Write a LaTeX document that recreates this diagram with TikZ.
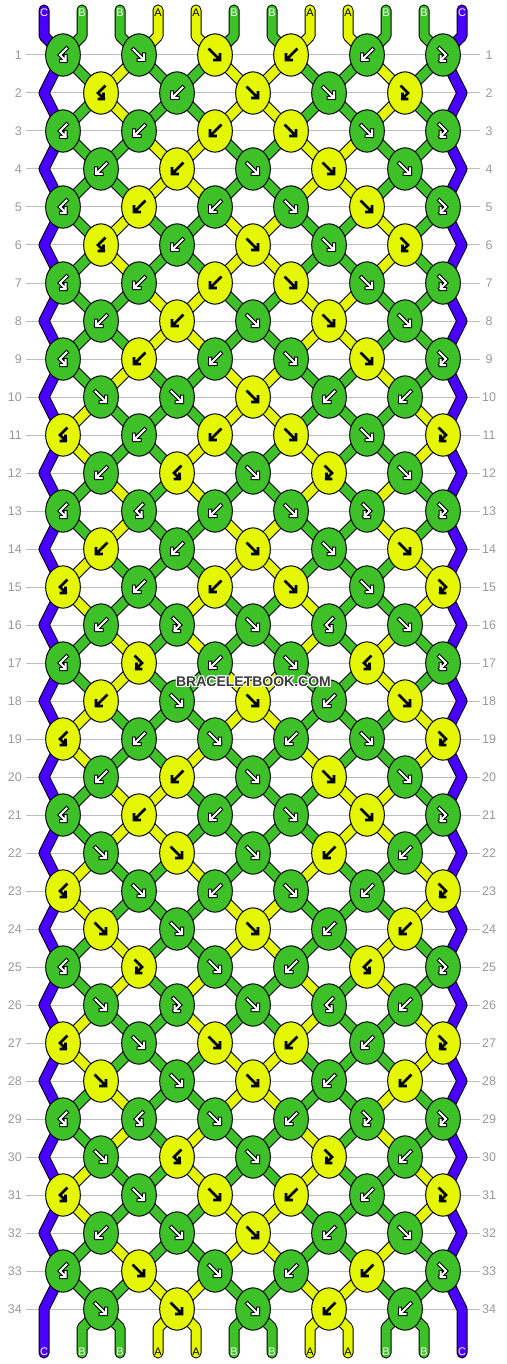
\documentclass[tikz,border=0pt]{standalone}
\usepackage{fontspec}
\setmainfont{Liberation Sans}
\usetikzlibrary{shapes.geometric}
\definecolor{cA}{HTML}{E4F700}
\definecolor{cB}{HTML}{3EC029}
\definecolor{cC}{HTML}{4A00FF}
\definecolor{rowgray}{HTML}{BDBDBD}
\definecolor{labgray}{HTML}{9A9A9A}
\definecolor{wmgray}{HTML}{3C3C3C}
\pgfdeclarelayer{bglayer}
\pgfdeclarelayer{strlayer}
\pgfsetlayers{bglayer,strlayer,main}
% knot types: 1=forward, 2=backward, 3=forward-backward, 4=backward-forward
\expandafter\def\csname bbrow1\endcsname{4,1,1,2,2,3}
\expandafter\def\csname bbrow2\endcsname{4,2,1,1,3}
\expandafter\def\csname bbrow3\endcsname{4,2,2,1,1,3}
\expandafter\def\csname bbrow4\endcsname{2,2,1,1,1}
\expandafter\def\csname bbrow5\endcsname{4,2,2,1,1,3}
\expandafter\def\csname bbrow6\endcsname{4,2,1,1,3}
\expandafter\def\csname bbrow7\endcsname{4,2,2,1,1,3}
\expandafter\def\csname bbrow8\endcsname{2,2,1,1,1}
\expandafter\def\csname bbrow9\endcsname{4,2,2,1,1,3}
\expandafter\def\csname bbrow10\endcsname{1,1,1,2,2}
\expandafter\def\csname bbrow11\endcsname{4,2,2,1,1,3}
\expandafter\def\csname bbrow12\endcsname{2,4,1,3,1}
\expandafter\def\csname bbrow13\endcsname{4,4,2,1,3,3}
\expandafter\def\csname bbrow14\endcsname{2,2,1,1,1}
\expandafter\def\csname bbrow15\endcsname{4,2,2,1,1,3}
\expandafter\def\csname bbrow16\endcsname{2,3,1,4,1}
\expandafter\def\csname bbrow17\endcsname{4,3,2,1,4,3}
\expandafter\def\csname bbrow18\endcsname{2,1,1,2,1}
\expandafter\def\csname bbrow19\endcsname{4,2,1,2,1,3}
\expandafter\def\csname bbrow20\endcsname{2,2,1,1,1}
\expandafter\def\csname bbrow21\endcsname{4,2,2,1,1,3}
\expandafter\def\csname bbrow22\endcsname{1,1,1,2,2}
\expandafter\def\csname bbrow23\endcsname{4,1,2,1,2,3}
\expandafter\def\csname bbrow24\endcsname{1,1,1,2,2}
\expandafter\def\csname bbrow25\endcsname{4,3,1,2,4,3}
\expandafter\def\csname bbrow26\endcsname{1,3,1,4,2}
\expandafter\def\csname bbrow27\endcsname{4,1,1,2,2,3}
\expandafter\def\csname bbrow28\endcsname{1,1,1,2,2}
\expandafter\def\csname bbrow29\endcsname{4,4,1,2,3,3}
\expandafter\def\csname bbrow30\endcsname{1,4,1,3,2}
\expandafter\def\csname bbrow31\endcsname{4,1,1,2,2,3}
\expandafter\def\csname bbrow32\endcsname{2,1,1,2,1}
\expandafter\def\csname bbrow33\endcsname{4,1,1,2,2,3}
\expandafter\def\csname bbrow34\endcsname{1,1,1,2,2}
\def\labA{black}\def\labB{white}\def\labC{white}
\def\bbgreen{cB}
\tikzset{
  knot/.style={ellipse,draw=black,line width=1pt,minimum width=34.7pt,minimum height=42.3pt,inner sep=0pt},
  seg/.style={draw=black,line width=1pt,double distance=9pt,line cap=round,line join=round},
  rowline/.style={draw=rowgray,line width=1pt},
  rowlab/.style={text=labgray,font=\fontsize{12.5}{12.5}\selectfont,inner sep=0pt},
  strlab/.style={font=\fontsize{11}{11}\selectfont,inner sep=0pt},
  arrowline/.style={line cap=rect,line join=miter},
  wm/.style={font=\bfseries\fontsize{14}{14}\selectfont,inner sep=0pt}
}
\newcommand\bbarrowpath[3]{%
  \ifcase#1\relax\or
    \draw[arrowline,#3,shift={(#2.center)}] (-5.5,-5.5) -- (4.5,4.5) (-0.5,5) -- (5,5) -- (5,-0.5);
  \or
    \draw[arrowline,#3,shift={(#2.center)}] (5.5,-5.5) -- (-4.5,4.5) (0.5,5) -- (-5,5) -- (-5,-0.5);
  \or
    \draw[arrowline,#3,shift={(#2.center)}] (-3.5,-6.5) -- (3,0) -- (-2.5,5.5) (-2.5,1) -- (-2.5,6) -- (2,6);
  \or
    \draw[arrowline,#3,shift={(#2.center)}] (3.5,-6.5) -- (-3,0) -- (2.5,5.5) (2.5,1) -- (2.5,6) -- (-2,6);
  \fi}
\newcommand\bbarrow[3]{%
  \ifx#2\bbgreen
    \bbarrowpath{#1}{#3}{black,line width=4pt}%
    \bbarrowpath{#1}{#3}{white,line width=2pt}%
  \else
    \bbarrowpath{#1}{#3}{black,line width=2.6pt}%
  \fi}
\begin{document}
\begin{tikzpicture}[x=1pt,y=-1pt]
\useasboundingbox (0,0) rectangle (506,1364);
\begin{pgfonlayer}{bglayer}
\fill[white] (0,0) rectangle (506,1364);
\end{pgfonlayer}
% ---- simulate the strings
\foreach \c [count=\i] in {C,B,B,A,A,B,B,A,A,B,B,C}{%
  \expandafter\xdef\csname bbs\i\endcsname{\c}}
\foreach \rr in {1,...,34}{%
  \pgfmathtruncatemacro\bbodd{mod(\rr,2)}%
  \edef\bblist{\csname bbrow\rr\endcsname}%
  \foreach \ty [count=\kk] in \bblist {%
    \ifnum\bbodd=1 \pgfmathtruncatemacro\sL{2*\kk-1}\else\pgfmathtruncatemacro\sL{2*\kk}\fi
    \pgfmathtruncatemacro\sR{\sL+1}%
    \edef\colL{\csname bbs\sL\endcsname}%
    \edef\colR{\csname bbs\sR\endcsname}%
    \ifcase\ty\relax\or
      \expandafter\xdef\csname kc-\rr-\kk\endcsname{\colL}%
      \expandafter\xdef\csname bbs\sL\endcsname{\colR}%
      \expandafter\xdef\csname bbs\sR\endcsname{\colL}%
    \or
      \expandafter\xdef\csname kc-\rr-\kk\endcsname{\colR}%
      \expandafter\xdef\csname bbs\sL\endcsname{\colR}%
      \expandafter\xdef\csname bbs\sR\endcsname{\colL}%
    \or
      \expandafter\xdef\csname kc-\rr-\kk\endcsname{\colL}%
    \or
      \expandafter\xdef\csname kc-\rr-\kk\endcsname{\colR}%
    \fi
    \expandafter\xdef\csname kt-\rr-\kk\endcsname{\ty}%
  }%
  \foreach \i in {1,...,12}{%
    \expandafter\xdef\csname sc-\rr-\i\endcsname{\csname bbs\i\endcsname}}%
}
% ---- rows, labels and knots
\foreach \rr in {1,...,34}{%
  \pgfmathsetmacro\yy{55+38*(\rr-1)}%
  \pgfmathtruncatemacro\bbodd{mod(\rr,2)}%
  \coordinate (gl-\rr) at (26,\yy);
  \coordinate (gr-\rr) at (480,\yy);
  \begin{pgfonlayer}{bglayer}
  \draw[rowline] (gl-\rr) -- (gr-\rr);
  \end{pgfonlayer}
  \node[rowlab,anchor=east] (ll-\rr) at (22,\yy) {\rr};
  \node[rowlab] (lr-\rr) at (489,\yy) {\rr};
  \ifnum\bbodd=1 \def\nk{6}\def\xz{63}\else\def\nk{5}\def\xz{101}%
    \coordinate (k-\rr-0) at (44,\yy);
    \coordinate (k-\rr-6) at (462,\yy);
  \fi
  \foreach \kk in {1,...,\nk}{%
    \pgfmathsetmacro\xx{\xz+76*(\kk-1)}%
    \edef\kcol{c\csname kc-\rr-\kk\endcsname}%
    \edef\ktyp{\csname kt-\rr-\kk\endcsname}%
    \node[knot,fill=\kcol] (k-\rr-\kk) at (\xx,\yy) {};
    \bbarrow{\ktyp}{\kcol}{k-\rr-\kk}%
  }%
}
% ---- string segments between knots
\begin{pgfonlayer}{strlayer}
\foreach \rr in {1,...,33}{%
  \pgfmathtruncatemacro\rn{\rr+1}%
  \pgfmathtruncatemacro\bbodd{mod(\rr,2)}%
  \foreach \i in {2,...,11}{%
    \ifnum\bbodd=1
      \pgfmathtruncatemacro\ka{(\i+1)/2}\pgfmathtruncatemacro\kb{\i/2}%
    \else
      \pgfmathtruncatemacro\ka{\i/2}\pgfmathtruncatemacro\kb{(\i+1)/2}%
    \fi
    \edef\scol{c\csname sc-\rr-\i\endcsname}%
    \draw[seg,double=\scol] (k-\rr-\ka.center) -- (k-\rn-\kb.center);
  }%
}
\end{pgfonlayer}
% ---- string ends with their letters
\foreach \c [count=\i] in {C,B,B,A,A,B,B,A,A,B,B,C}{%
  \pgfmathsetmacro\xs{44+38*(\i-1)}%
  \pgfmathtruncatemacro\ka{(\i+1)/2}%
  \pgfmathtruncatemacro\kb{\i/2}%
  \coordinate (ts-\i) at (\xs,10);
  \coordinate (tb-\i) at (\xs,36);
  \coordinate (bb-\i) at (\xs,1328);
  \coordinate (bs-\i) at (\xs,1353);
  \edef\lc{\csname lab\c\endcsname}%
  \edef\bl{\csname sc-34-\i\endcsname}%
  \edef\blc{\csname lab\bl\endcsname}%
  \node[strlab,text=\lc] (tl-\i) at (\xs,12.5) {\c};
  \node[strlab,text=\blc] (bl-\i) at (\xs,1352) {\bl};
  \ifnum\i>1 \ifnum\i<12
    \begin{pgfonlayer}{strlayer}
    \draw[seg,double=c\c] (ts-\i) -- (tb-\i) -- (k-1-\ka.center);
    \draw[seg,double=c\bl] (k-34-\kb.center) -- (bb-\i) -- (bs-\i);
    \end{pgfonlayer}
  \fi\fi
}
% ---- edge strings
\begin{pgfonlayer}{strlayer}
\draw[seg,double=cC] (ts-1) -- (tb-1)
  \foreach \rr [evaluate=\rr as \ke using {int(mod(\rr,2))}] in {1,...,34}{ -- (k-\rr-\ke.center)} -- (bs-1);
\draw[seg,double=cC] (ts-12) -- (tb-12)
  \foreach \rr in {1,...,34}{ -- (k-\rr-6.center)} -- (bs-12);
\end{pgfonlayer}
% ---- watermark
\foreach \dx/\dy [count=\n] in {-1/0,1/0,0/-1,0/1,-1/-1,1/1,-1/1,1/-1}{%
  \node[wm,text=white] (wmh-\n) at (253.5+\dx,682+\dy) {BRACELETBOOK.COM};
}
\node[wm,text=wmgray] (wmark) at (253.5,682) {BRACELETBOOK.COM};
\end{tikzpicture}
\end{document}
